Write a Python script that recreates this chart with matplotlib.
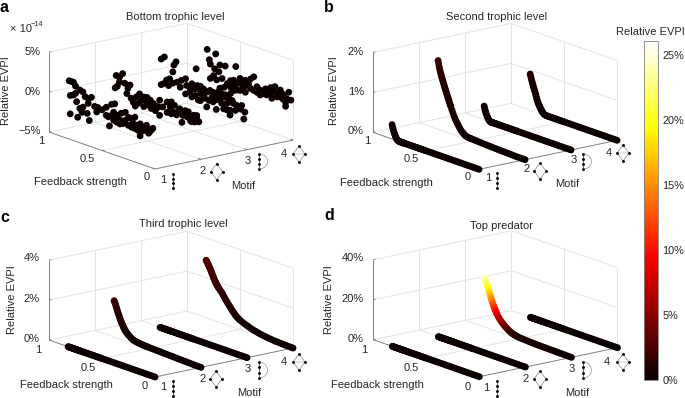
import numpy as np
import matplotlib
matplotlib.use("Agg")
import matplotlib.pyplot as plt
from matplotlib.cm import ScalarMappable
from matplotlib.colors import Normalize
from matplotlib.lines import Line2D
from matplotlib.transforms import Affine2D
from mpl_toolkits.mplot3d import proj3d

plt.rcParams['font.family'] = ['Liberation Sans', 'DejaVu Sans']

W, H = 685, 398
motifs = [1, 2, 3, 4]
cbar_ticks = [0, 5, 10, 15, 20, 25]
cbar_max = 26.1

# ---- panel a: scattered values (units of 1e-14 %) ----
a1_fb = [.81,.79,.77,.75,.80,.77,.75,.80,.73,.71,.68,.74,.71,.69,.64,.62,.66,.63,.60,.63,.68,.57,.54,.50,.46,.41,.38,.55,.44,.41,.38,.35,.32,.43,.33,.28,.25,.22,.19,.21,.17,.14,.14,.11,.08,.05,.02,.06,.39,.36,.30,.25,.22,.19,.16,.11,.08,.03,.46,.39,.28,.33]
a1_v = [2.3,2.3,2.3,1.9,.5,.7,1.0,-1.8,-1.9,1.6,1.5,0,-.7,-1.1,-1.0,-1.8,1.0,.9,1.2,.3,-.4,.2,.2,.1,.6,1.2,1.4,-.4,-.5,-.2,-.4,.1,.5,-1.6,-.9,-.2,.3,.3,.6,-.2,-.3,0,-1.5,-.3,-.3,-.6,0,-.8,-.7,-.8,-.7,-.7,-.8,-.8,-.9,-.7,.1,-.2,-.4,.3,.8,-.4]
a2_fb = [.81,.80,.77,.74,.77,.72,.69,.67,.79,.70,.66,.64,.61,.58,.54,.51,.62,.59,.54,.50,.47,.43,.42,.39,.36,.32,.28,.25,.20,.17,.13,.09,.04,.02,.18,.32,.28,.23,.12,.07,.51,.45,.39,.29,.26,.15,.04,.10,.06,.56,.48,.40,.29,.21,.09]
a2_v = [.2,1.8,1.7,2.3,1.1,1.2,.7,1.2,.5,0,-.4,-.8,0,.5,.3,.4,-1.2,-.7,-.9,-.5,-.8,-.9,-.3,-1.3,-.1,.7,.9,.6,.4,-.3,-.3,-.1,-.1,-.4,-1.2,-.6,-.6,-.5,.4,.2,-.2,-.1,.6,.2,-.3,.4,.3,-.6,-.6,-.2,.2,-.3,.6,.1,-.7]
a3_fb = [.81,.78,.67,.69,.70,.76,.73,.79,.81,.70,.66,.62,.58,.74,.63,.54,.49,.44,.41,.54,.49,.58,.41,.36,.33,.29,.25,.29,.22,.16,.13,.10,.06,.02,.03,.16,.19,.38,.32,.48,.44,.52,.32,.24,.11,.05,.19,.46,.57,.52,.47,.43,.38,.35,.30,.27,.24,.21,.17,.14,.40,.44]
a3_v = [2.6,3.0,2.9,2.4,1.5,.2,.5,-.4,-.6,.1,.4,.8,1.2,-.4,-.1,.3,.3,.9,.7,-.3,-.5,-.7,-.1,-.5,.1,-.1,.4,-1.3,-.9,-1.4,.2,.1,-.2,-.4,-1.3,-.8,-.1,-1.4,.7,2.9,0,-.8,-.5,-.3,-.6,.3,-.9,-.9,.4,.85,.86,.45,.46,.8,.4,1.0,.9,.6,.6,.5,-.4,-.9]
a4_fb = [.81,.73,.79,.78,.74,.69,.64,.54,.70,.75,.78,.67,.72,.62,.56,.50,.45,.40,.37,.59,.53,.47,.40,.34,.31,.26,.21,.17,.31,.25,.20,.15,.10,.07,.04,.02,.07,.14,.59,.53,.50,.44,.37,.25,.18,.09,.06,.56,.64,.69,.65,.59,.56,.50,.45,.42,.34,.28,.21,.10,.12]
a4_v = [2.6,2.4,1.4,.9,.5,1.2,1.3,1.7,.3,-.4,-.9,-.4,-.8,-.8,-.1,.4,.4,.8,1.2,-1.1,-.4,-.5,-.4,.1,-.2,.2,.6,.9,-.8,-.5,-.7,-.3,-.3,-.6,.8,-.1,-1.1,.2,-1.9,-1.2,-.2,-.2,-.5,.1,.2,.2,-.1,-1.4,-2.3,-1.7,-1.4,-.3,-.7,-1.1,-1.1,.1,-.6,-.5,-.2,.3,.7]

# ---- panels b, c, d: curves on a shared feedback grid ----
feedback = np.concatenate([np.arange(25) * 0.02, 0.50 + np.arange(20) * 0.01, 0.70 + np.arange(25) * 0.005])
flat = [0.0] * 70

b1 = [0.0]*25 + [0.0]*20 + [0,0,0,0,0,0,0,0,0,0,0,0,.005,.01,.02,.035,.05,.08,.11,.14,.17,.21,.25,.30,.36]
b2 = [0,0,0,0,0,.002,.004,.006,.008,.01,.012,.014,.016,.018,.02,.022,.025,.028,.03,.033,.036,.04,.043,.047,.05,
      .052,.054,.056,.058,.061,.066,.08,.095,.115,.135,.16,.195,.235,.275,.32,.365,.415,.47,.54,.61,
      .68,.715,.75,.79,.83,.865,.90,.94,.975,1.01,1.05,1.09,1.13,1.17,1.21,1.25,1.29,1.33,1.37,1.42,1.47,1.52,1.58,1.65,1.72]
b3 = [0.0]*25 + [0.0]*20 + [0,0,0,0,0,0,0,0,0,0,0,0,0,.01,.02,.03,.05,.075,.10,.13,.16,.20,.24,.29,.34]
b4 = [0.0]*25 + [0,0,0,0,0,0,0,0,0,0,0,0,0,0,0,0,0,0,.005,.015] + [.04,.06,.08,.10,.12,.145,.17,.195,.22,.25,.28,.32,.36,.41,.46,.50,.54,.58,.62,.66,.71,.75,.80,.85,.90]

c2 = [0,0,0,.003,.006,.01,.013,.017,.02,.024,.028,.032,.036,.04,.044,.048,.052,.056,.06,.064,.068,.072,.076,.08,.084,
      .088,.09,.092,.095,.10,.105,.11,.115,.12,.13,.14,.15,.16,.17,.19,.22,.25,.29,.33,.37,
      .43,.46,.49,.52,.56,.60,.65,.70,.75,.80,.85,.91,.97,1.03,1.10,1.17,1.24,1.31,1.39,1.47,1.55,1.63,1.70,1.76,1.82]
c4 = [0,0,.01,.01,.01,.02,.02,.03,.03,.04,.05,.06,.07,.09,.10,.12,.14,.17,.19,.22,.25,.29,.33,.37,.42,
      .47,.50,.54,.58,.62,.68,.74,.80,.86,.93,1.00,1.06,1.13,1.20,1.28,1.36,1.44,1.52,1.58,1.64,
      1.70,1.73,1.76,1.80,1.84,1.88,1.93,1.98,2.03,2.08,2.14,2.20,2.26,2.32,2.38,2.44,2.50,2.55,2.60,2.65,2.70,2.75,2.80,2.84,2.88]

d3 = [0,.02,.04,.06,.08,.10,.12,.14,.16,.18,.2,.22,.24,.26,.28,.30,.33,.36,.40,.46,.52,.58,.64,.70,.77,
      .85,.95,1.05,1.2,1.35,1.5,1.7,1.95,2.25,2.55,2.9,3.3,3.7,4.15,4.6,5.1,5.6,6.2,6.9,7.6,
      8.5,9.0,9.5,10.0,10.6,11.2,11.8,12.4,13.1,13.8,14.5,15.3,16.1,16.9,17.7,18.5,19.3,20.0,20.8,21.5,22.2,22.9,23.5,24.1,24.7]

fig = plt.figure(figsize=(W / 100, H / 100), dpi=100)
px = Affine2D().scale(1, -1).translate(0, H)  # reference pixel coords
norm = Normalize(0, cbar_max)
GRID, AXC, TXT = '#e4e4e4', '#808080', '#262626'
FS = 8.0


def txt(x, y, s, size=FS, ha='center', va='center', **kw):
    fig.text(x, y, s, transform=px, fontsize=size, ha=ha, va=va, color=kw.pop('color', TXT), **kw)


def panel(left, front, right, zlim, zticks, series, scale=1.0, size=24):
    ax = fig.add_axes([0, 0, .5, .5], projection='3d', proj_type='ortho')
    ax.set_box_aspect((174.7, 172.9, 83))
    ax.view_init(elev=15.7, azim=-127.8)
    ax.set_xlim(1, 4, view_margin=0)
    ax.set_ylim(0, 1, view_margin=0)
    ax.set_zlim(*zlim, view_margin=0)
    ax.set_axis_off()
    ax.patch.set_alpha(0)
    z0, z1 = zlim

    # fit the projected box onto the reference pixel corners
    S, x0, y0 = 300.0, 0.0, 0.0
    for _ in range(4):
        ax.set_position([x0 / W, y0 / H, S / W, S / H])
        M = ax.get_proj()
        def disp(a, b, c):
            p = proj3d.proj_transform(a, b, c, M)
            return ax.transData.transform((p[0], p[1]))
        f = disp(1, 0, z0)
        r = disp(4, 0, z0)
        target = np.array([right[0] - front[0], front[1] - right[1]], float)
        S *= np.linalg.norm(target) / np.linalg.norm(r - f)
        ax.set_position([x0 / W, y0 / H, S / W, S / H])
        f = disp(1, 0, z0)
        x0 += front[0] - f[0]
        y0 += (H - front[1]) - f[1]
    ax.set_position([x0 / W, y0 / H, S / W, S / H])

    kw = dict(color=GRID, lw=0.7, solid_capstyle='butt', clip_on=False)
    for m in [2, 3]:
        ax.plot([m, m], [0, 1], [z0, z0], **kw)
        ax.plot([m, m], [1, 1], [z0, z1], **kw)
    ax.plot([1, 4], [.5, .5], [z0, z0], **kw)
    ax.plot([4, 4], [.5, .5], [z0, z1], **kw)
    for z in zticks:
        ax.plot([1, 4], [1, 1], [z, z], **kw)
        ax.plot([4, 4], [0, 1], [z, z], **kw)
    ax.plot([4, 4], [1, 1], [z0, z1], **kw)
    ax.plot([4, 4], [0, 0], [z0, z1], **kw)

    kw = dict(color=AXC, lw=0.7, solid_capstyle='butt', clip_on=False)
    ax.plot([1, 1], [0, 1], [z0, z0], **kw)
    ax.plot([1, 4], [0, 0], [z0, z0], **kw)
    ax.plot([1, 1], [1, 1], [z0, z1], **kw)
    for z in zticks:
        ax.plot([1, 1.05], [1, 1], [z, z], **kw)
    for m in motifs:
        ax.plot([m, m], [0, .025], [z0, z0], **kw)
    ax.plot([1, 1.05], [.5, .5], [z0, z0], **kw)

    for m, fb, val in series:
        val = np.asarray(val, float)
        ax.scatter(np.full(len(val), m), fb, val, c=val * scale, cmap='hot', norm=norm,
                   s=size, linewidths=0, depthshade=False, clip_on=False)
    return ax


def icon_chain(x, y0, y1):
    ys = np.linspace(y0, y1, 4)
    fig.add_artist(Line2D([x, x], [y0, y1], transform=px, color='k', lw=0.4))
    fig.add_artist(Line2D([x] * 4, ys, transform=px, ls='', marker='o', ms=2.1, mfc='k', mec='k', mew=0))


def icon_diamond(cx, cy, bar=False):
    xs = [cx, cx + 6, cx, cx - 6, cx]
    ys = [cy - 8, cy, cy + 8, cy, cy - 8]
    fig.add_artist(Line2D(xs, ys, transform=px, color='#555555', lw=0.35))
    if bar:
        fig.add_artist(Line2D([cx - 6, cx + 6], [cy, cy], transform=px, color='#888888', lw=0.3))
    fig.add_artist(Line2D(xs[:4], ys[:4], transform=px, ls='', marker='o', ms=2.1, mfc='k', mec='k', mew=0))


def icon_arc(x, y0, y1):
    icon_chain(x, y0, y1)
    t = np.radians(np.arange(-90, 91, 10))
    r = (y1 - y0) / 2
    fig.add_artist(Line2D(x + 8.5 * np.cos(t), (y0 + y1) / 2 + r * np.sin(t),
                          transform=px, color='#777777', lw=0.4))


def labels(letter, lxy, title, txy, zlab, zx, ylab_xy, fbt, fbl_xy, mots, motif_xy, icons):
    txt(lxy[0], lxy[1], letter, size=11.5, fontweight='bold', color='k', ha='left')
    txt(txy[0], txy[1], title)
    for y, s in zlab:
        txt(zx, y, s, ha='right')
    txt(ylab_xy[0], ylab_xy[1], 'Relative EVPI', rotation=90)
    for x, y, s in fbt:
        txt(x, y, s)
    txt(fbl_xy[0], fbl_xy[1], 'Feedback strength')
    for i, (x, y) in enumerate(mots):
        txt(x, y, str(motifs[i]))
    txt(motif_xy[0], motif_xy[1], 'Motif')
    icon_chain(*icons[0])
    icon_diamond(*icons[1])
    icon_arc(*icons[2])
    icon_diamond(*icons[3], bar=True)


panel((49, 132), (155, 169), (293, 140), (-5, 5), [-5, 0, 5],
      [(1, a1_fb, a1_v), (2, a2_fb, a2_v), (3, a3_fb, a3_v), (4, a4_fb, a4_v)], scale=1e-14)
panel((373, 132), (479, 169.3), (617, 140), (0, 2), [0, 1, 2],
      [(4, feedback, b4), (3, feedback, b3), (2, feedback, b2), (1, feedback, b1)])
panel((49, 340), (155, 377), (293, 348), (0, 4), [0, 2, 4],
      [(4, feedback, c4), (3, feedback, flat), (2, feedback, c2), (1, feedback, flat)])
panel((373, 339.3), (479.3, 376.7), (617.3, 347), (0, 40), [0, 20, 40],
      [(4, feedback, flat), (3, feedback, d3), (2, feedback, flat), (1, feedback, flat)])

labels('a', (0, 8), 'Bottom trophic level', (175, 17),
       [(52, '5%'), (92, '0%'), (131, '\u22125%')], 41, (6, 91),
       [(41, 141, '1'), (87, 159, '0.5'), (147, 177, '0')], (80, 182),
       [(163, 180), (203, 171), (248, 161), (284, 154)], (243, 186),
       [(173, 174, 188), (216.7, 171.6), (259, 154, 169), (299, 154)])
txt(10, 29, '\u00d7 10', ha='left')
txt(31, 24.5, '\u221214', size=5.2, ha='left')

labels('b', (324, 8), 'Second trophic level', (496.7, 17),
       [(52, '2%'), (92, '1%'), (131, '0%')], 364, (334, 91),
       [(367, 141, '1'), (411, 159, '0.5'), (468, 177, '0')], (386, 183),
       [(488, 178), (527, 169), (574, 160), (609, 153)], (567, 184),
       [(497, 173, 188), (540, 171), (583, 154, 169), (623, 153)])

labels('c', (0, 217), 'Third trophic level', (183, 224),
       [(258, '4%'), (299, '2%'), (339, '0%')], 40, (12, 300),
       [(38, 350, '1'), (88, 368, '0.5'), (145, 386, '0')], (66, 385),
       [(163, 387), (203, 379), (248, 369), (284, 362)], (249, 393),
       [(173, 381, 396), (216, 379), (259, 362, 378), (299, 362)])

labels('d', (324, 216), 'Top predator', (502, 226),
       [(258, '40%'), (299, '20%'), (339, '0%')], 364, (329, 300),
       [(364, 350, '1'), (411, 368, '0.5'), (468, 387, '0')], (377, 385),
       [(486, 388), (526, 379), (572, 369), (607, 362)], (577, 393),
       [(497, 381, 396), (540, 379), (583, 362, 378), (623, 362)])

# colour bar
cax = fig.add_axes([644 / W, 1 - 380 / H, 13.5 / W, 339 / H])
cb = fig.colorbar(ScalarMappable(norm=norm, cmap='hot'), cax=cax)
cb.set_ticks(cbar_ticks)
cb.set_ticklabels([f'{t}%' for t in cbar_ticks])
cax.tick_params(length=0, labelsize=7.8, pad=3.5, labelcolor=TXT)
cb.outline.set_edgecolor(AXC)
cb.outline.set_linewidth(0.6)
txt(650, 32, 'Relative EVPI')

fig.savefig('out.png', dpi=100)
